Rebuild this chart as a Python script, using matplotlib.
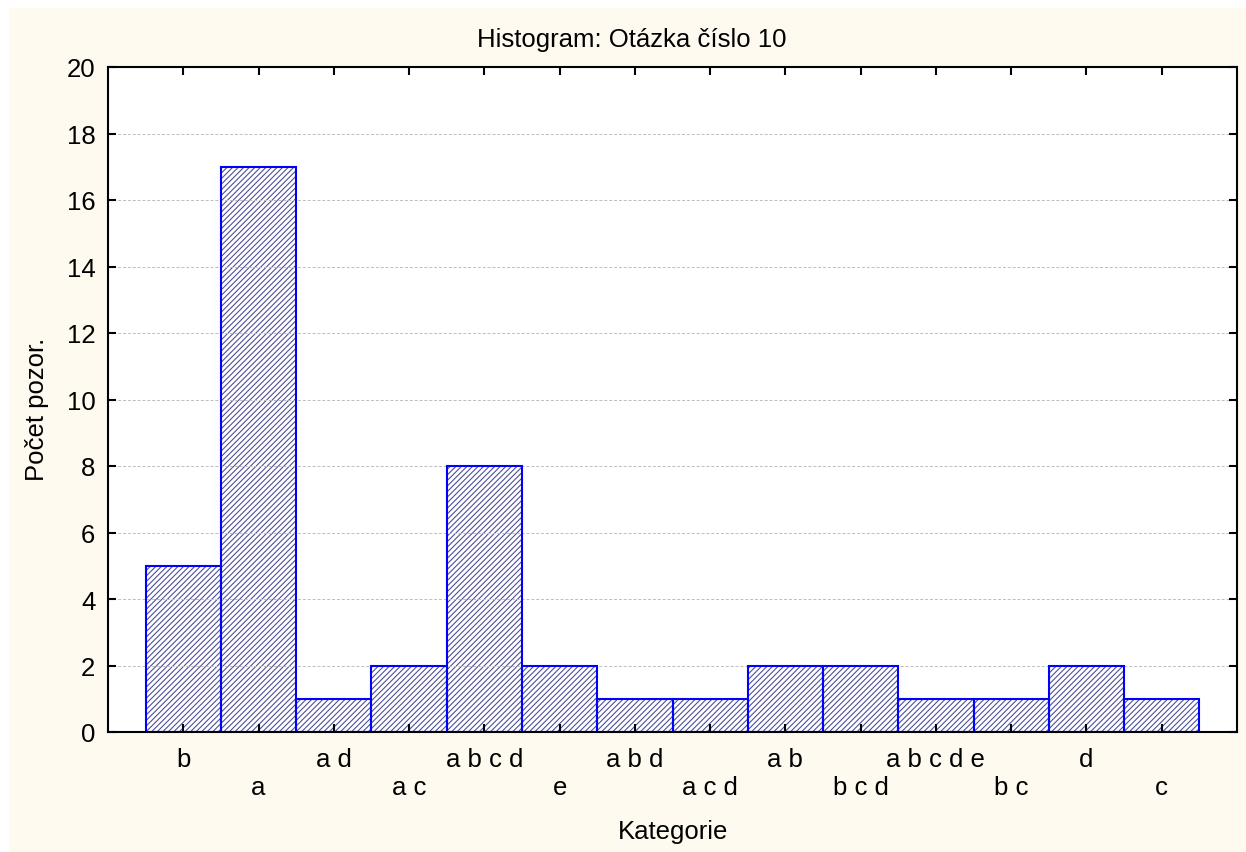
import numpy as np
import matplotlib
matplotlib.use('Agg')
import matplotlib.pyplot as plt
from matplotlib.patches import Rectangle

# categories and counts
kategorie = ['b', 'a', 'a d', 'a c', 'a b c d', 'e', 'a b d', 'a c d',
             'a b', 'b c d', 'a b c d e', 'b c', 'd', 'c']
pocty = [5, 17, 1, 2, 8, 2, 1, 1, 2, 2, 1, 1, 2, 1]
y_ticks = list(range(0, 21, 2))

plt.rcParams['font.family'] = ['Liberation Sans', 'DejaVu Sans']
plt.rcParams['hatch.linewidth'] = 0.8
fs = 18.5

W, H = 1246, 853
fig = plt.figure(figsize=(W / 100, H / 100), dpi=100, facecolor='white')
# cream panel behind everything, leaves a thin white margin top/left
fig.patches.append(Rectangle((9 / W, 0), 1, 1 - 9 / H, transform=fig.transFigure,
                             facecolor='#FFFAF0', edgecolor='none', zorder=-10))

ax = fig.add_axes([108 / W, 1 - 733 / H, (1237 - 108) / W, (733 - 68) / H])
ax.set_facecolor('white')

x = np.arange(len(kategorie))
# hatch layer (hatch colour follows edgecolor), then blue outline
ax.bar(x, pocty, width=1.0, facecolor='white', edgecolor='#50509a',
       linewidth=0, hatch='//////', zorder=2)
ax.bar(x, pocty, width=1.0, fill=False, edgecolor='#0000FF',
       linewidth=1.5, zorder=3)

ax.set_xlim(-1, len(kategorie))
ax.set_ylim(0, 20)
ax.set_yticks(y_ticks)
ax.set_xticks(x)
labels = [k if i % 2 == 0 else '\n' + k for i, k in enumerate(kategorie)]
ax.set_xticklabels(labels, linespacing=1.2)

ax.grid(axis='y', color='#BDBDBD', linestyle=(0, (3, 2)), linewidth=0.7, zorder=4)
ax.set_axisbelow(False)

for s in ax.spines.values():
    s.set_linewidth(1.5)
    s.set_color('black')
    s.set_zorder(5)

ax.tick_params(axis='both', direction='in', length=6, width=1.5,
               labelsize=fs, top=True, right=True)
ax.tick_params(axis='x', pad=11)
ax.tick_params(axis='y', pad=9)

fig.text(632 / W, 1 - 40 / H, 'Histogram: Otázka číslo 10', ha='center',
         va='center', fontsize=fs)
fig.text(673 / W, 1 - 832 / H, 'Kategorie', ha='center', va='center', fontsize=fs)
fig.text(37 / W, 1 - 409 / H, 'Počet pozor.', ha='center', va='center',
         rotation=90, fontsize=fs)

fig.savefig('out.png', dpi=100, facecolor=fig.get_facecolor())
